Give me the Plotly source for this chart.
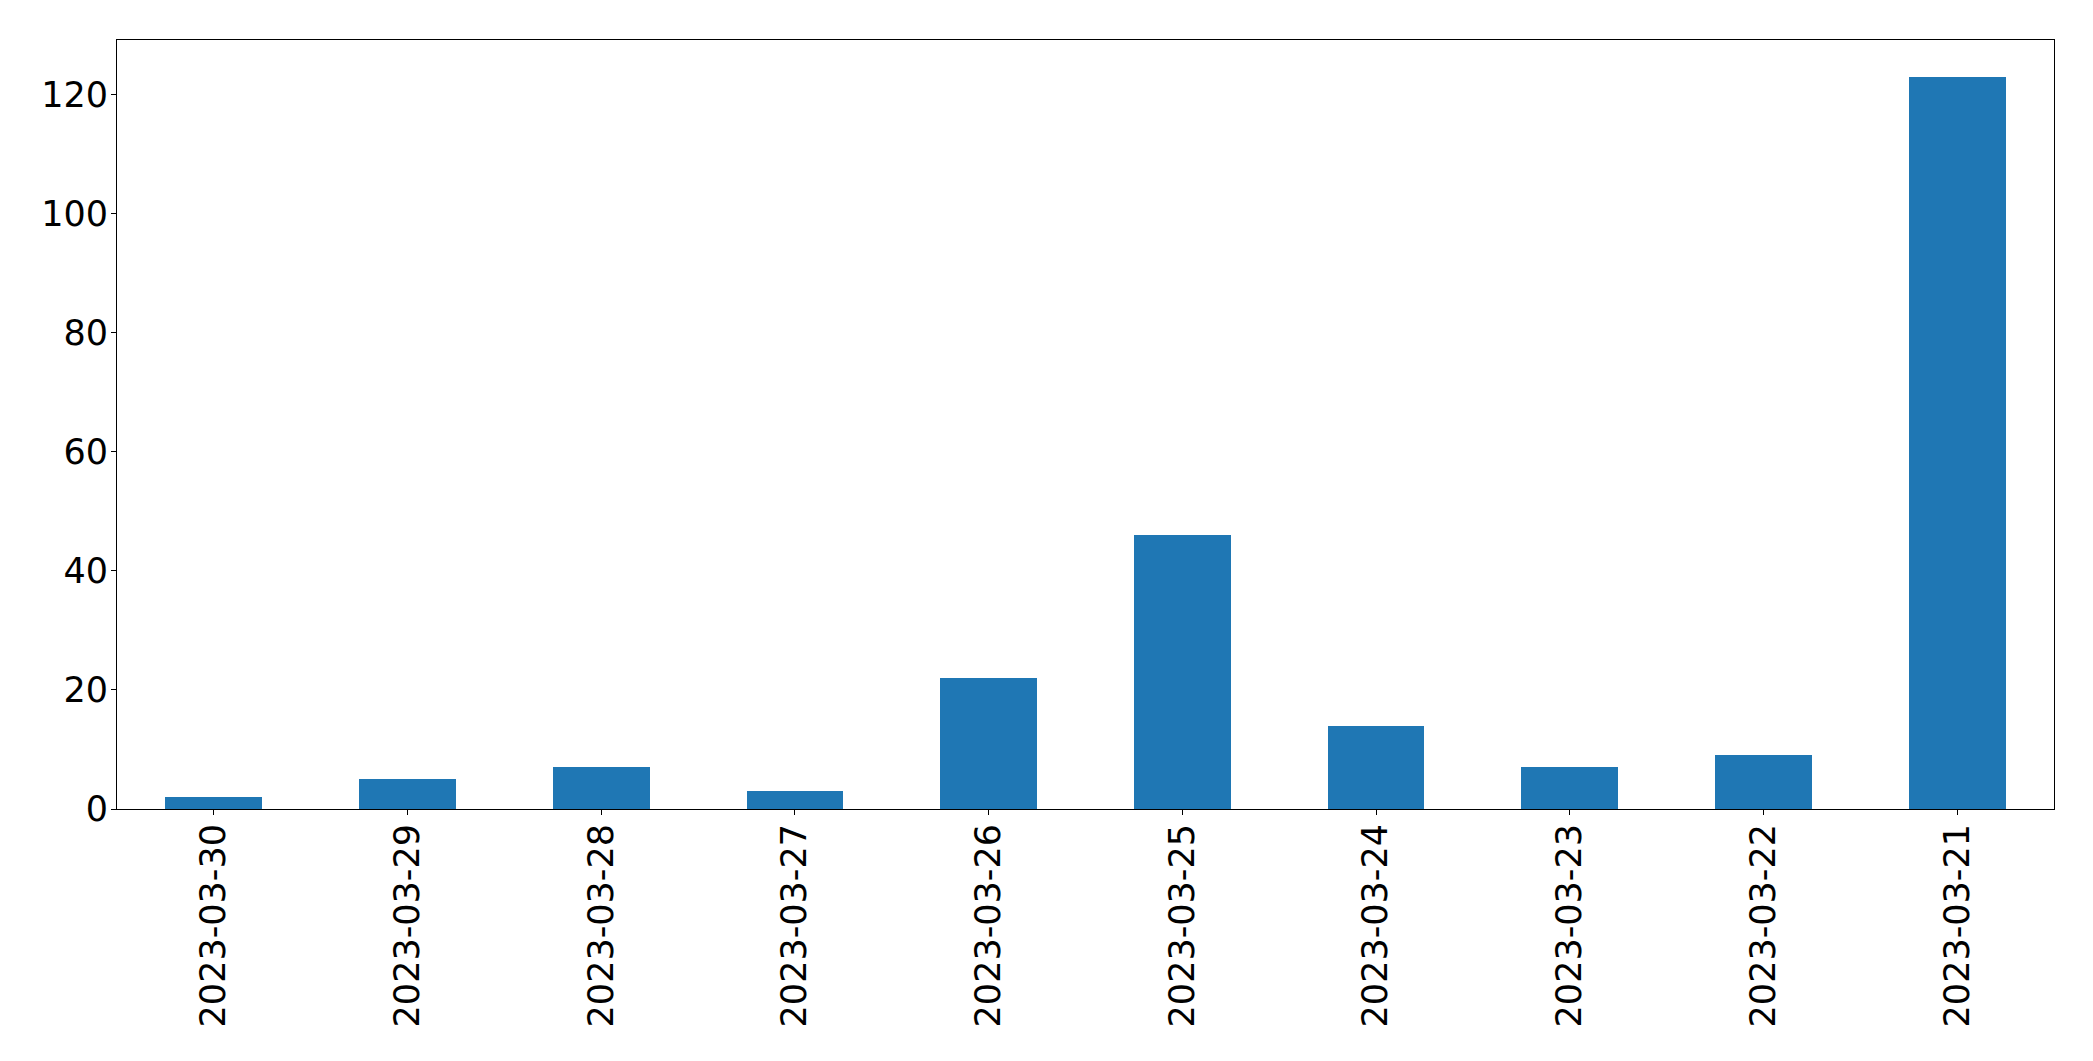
import plotly.graph_objects as go

dates = ["2023-03-30", "2023-03-29", "2023-03-28", "2023-03-27", "2023-03-26",
         "2023-03-25", "2023-03-24", "2023-03-23", "2023-03-22", "2023-03-21"]
counts = [2, 5, 7, 3, 22, 46, 14, 7, 9, 123]
y_ticks = [0, 20, 40, 60, 80, 100, 120]

fig = go.Figure(go.Bar(
    x=list(range(len(dates))), y=counts, width=0.5,
    marker=dict(color="#1f77b4", line=dict(width=0)),
))

font = dict(family="DejaVu Sans", size=35, color="black")
fig.update_layout(
    width=2085, height=1053,
    margin=dict(l=108.5, r=39, t=31.5, b=252, autoexpand=False),
    plot_bgcolor="white", paper_bgcolor="white",
    showlegend=False, bargap=0,
    font=font,
)
fig.update_xaxes(
    range=[-0.5, len(dates) - 0.5], automargin=False,
    tickmode="array", tickvals=list(range(len(dates))), ticktext=dates,
    tickangle=-90, ticks="outside", ticklen=5, tickwidth=1, tickcolor="black",
    ticklabelstandoff=-5,
    showline=True, linecolor="black", linewidth=1, mirror=True,
    showgrid=False, zeroline=False, tickfont=font,
)
fig.update_yaxes(
    range=[0, 129.15], automargin=False,
    tickmode="array", tickvals=y_ticks,
    ticks="outside", ticklen=5, tickwidth=1, tickcolor="black",
    ticklabelstandoff=-4,
    showline=True, linecolor="black", linewidth=1, mirror=True,
    showgrid=False, zeroline=False, tickfont=font,
)
fig.write_html("out.html")
